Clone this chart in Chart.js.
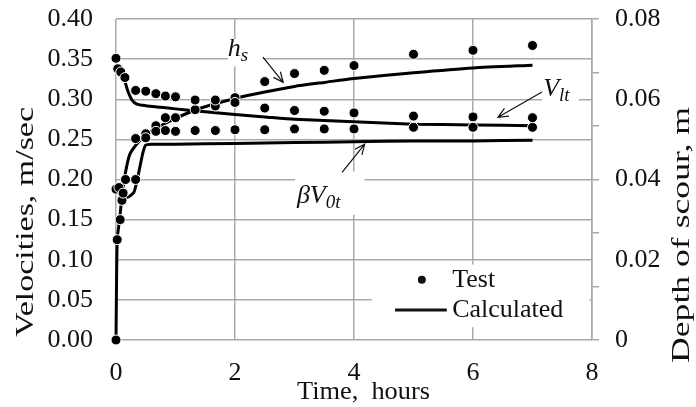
<!DOCTYPE html>
<html>
<head>
<meta charset="utf-8">
<script src="https://cdn.jsdelivr.net/npm/chart.js@4.4.0/dist/chart.umd.min.js"></script>
<style>
  html, body { margin: 0; padding: 0; background: #fff; }
  #contenedor { width: 696px; height: 407px; }
</style>
</head>
<body>
<div id="contenedor"><canvas id="grafico" width="696" height="407"></canvas></div>
<script>
// --- datos de prueba (puntos) ---
const horasVltPrueba = [0, 0.03, 0.08, 0.15, 0.33, 0.5, 0.67, 0.83, 1.0, 1.33, 1.67, 2.0, 2.5, 3.0, 3.5, 4.0, 5.0, 6.0, 7.0];
const vltPrueba = [0.351, 0.338, 0.334, 0.327, 0.311, 0.31, 0.307, 0.304, 0.303, 0.299, 0.299, 0.296, 0.289, 0.286, 0.285, 0.283, 0.279, 0.278, 0.277];

const horasBetaPrueba = [0, 0.05, 0.12, 0.33, 0.5, 0.67, 0.83, 1.0, 1.33, 1.67, 2.0, 2.5, 3.0, 3.5, 4.0, 5.0, 6.0, 7.0];
const betaPrueba = [0.188, 0.19, 0.183, 0.2, 0.252, 0.26, 0.261, 0.26, 0.261, 0.261, 0.262, 0.262, 0.263, 0.263, 0.263, 0.265, 0.265, 0.265];

const horasHsPrueba = [0, 0.02, 0.07, 0.1, 0.16, 0.33, 0.5, 0.67, 0.83, 1.0, 1.33, 1.67, 2.0, 2.5, 3.0, 3.5, 4.0, 5.0, 6.0, 7.0];
const hsPrueba = [0, 0.025, 0.030, 0.0348, 0.040, 0.0502, 0.0514, 0.0534, 0.0554, 0.0554, 0.0574, 0.0583, 0.0604, 0.0644, 0.0664, 0.0672, 0.0684, 0.0712, 0.0722, 0.0734];

// --- valores calculados (lineas) ---
const horasVltCalc = [0, 0.05, 0.1, 0.15, 0.2, 0.27, 0.35, 0.5, 0.75, 1.0, 1.36, 2.0, 2.5, 3.0, 4.0, 5.0, 6.0, 7.0];
const vltCalc = [0.342, 0.338, 0.33, 0.322, 0.31, 0.299, 0.294, 0.292, 0.29, 0.288, 0.2855, 0.281, 0.278, 0.275, 0.272, 0.269, 0.268, 0.267];

const horasBetaCalc = [0, 0.1, 0.2, 0.3, 0.34, 0.4, 0.45, 0.5, 0.6, 1.0, 2.0, 3.0, 4.0, 5.0, 6.0, 7.0];
const betaCalc = [0.186, 0.18, 0.178, 0.184, 0.194, 0.215, 0.233, 0.243, 0.244, 0.244, 0.245, 0.246, 0.247, 0.248, 0.248, 0.249];

const horasHsCalc = [0, 0.02, 0.06, 0.1, 0.15, 0.23, 0.37, 0.5, 0.7, 1.0, 1.36, 2.0, 2.5, 3.0, 3.5, 4.0, 5.0, 6.0, 7.0];
const hsCalc = [0, 0.025, 0.030, 0.0356, 0.041, 0.0462, 0.0492, 0.051, 0.053, 0.0552, 0.0575, 0.0602, 0.0618, 0.0632, 0.0642, 0.0652, 0.0666, 0.0678, 0.0685];

// --- ejes ---
const ticksHoras = [0, 2, 4, 6, 8];
const ticksVelocidad = [0, 0.05, 0.1, 0.15, 0.2, 0.25, 0.3, 0.35, 0.4];
const marcasProfundidad = [0, 0.0133, 0.0267, 0.04, 0.0533, 0.0667, 0.08];
const etiquetasProfundidad = [0, 0.02, 0.04, 0.06, 0.08];

const FUENTE = "'Liberation Serif', 'Times New Roman', serif";
const GRIS = '#a9a9a9';

function puntos(xs, ys) {
  return xs.map((x, i) => ({ x: x, y: ys[i] }));
}

function cerca(a, lista) {
  return lista.some(v => Math.abs(v - a) < 0.0005);
}

function flecha(ctx, x1, y1, x2, y2) {
  const ang = Math.atan2(y2 - y1, x2 - x1);
  const largo = 11;
  ctx.beginPath();
  ctx.moveTo(x1, y1);
  ctx.lineTo(x2, y2);
  ctx.moveTo(x2 - largo * Math.cos(ang - 0.42), y2 - largo * Math.sin(ang - 0.42));
  ctx.lineTo(x2, y2);
  ctx.lineTo(x2 - largo * Math.cos(ang + 0.42), y2 - largo * Math.sin(ang + 0.42));
  ctx.stroke();
}

// texto con subindice en cursiva
function etiqueta(ctx, antes, letra, sub, x, y) {
  ctx.font = 'italic 26px ' + FUENTE;
  let px = x;
  if (antes) {
    ctx.fillText(antes, px, y);
    px += ctx.measureText(antes).width;
  }
  ctx.fillText(letra, px, y);
  px += ctx.measureText(letra).width;
  ctx.font = 'italic 19px ' + FUENTE;
  ctx.fillText(sub, px, y + 5);
}

function tituloAjustado(ctx, texto, x, y, ancho, girar) {
  ctx.save();
  ctx.translate(x, y);
  if (girar) ctx.rotate(-Math.PI / 2);
  ctx.font = '26px ' + FUENTE;
  const w = ctx.measureText(texto).width;
  ctx.scale(ancho / w, 1);
  ctx.fillText(texto, 0, 0);
  ctx.restore();
}

const extras = {
  id: 'extras',
  afterDraw(chart) {
    const { ctx } = chart;
    const sx = chart.scales.x, sy = chart.scales.y;
    const X = v => sx.getPixelForValue(v);
    const Y = v => sy.getPixelForValue(v);

    ctx.save();
    // fondos blancos de anotaciones y leyenda
    ctx.fillStyle = '#fff';
    [[1.88, 2.47, 0.375, 0.341], [7.16, 7.78, 0.331, 0.294], [3.01, 4.18, 0.21, 0.156], [4.30, 7.96, 0.094, 0.016]]
      .forEach(c => ctx.fillRect(X(c[0]), Y(c[2]), X(c[1]) - X(c[0]), Y(c[3]) - Y(c[2])));

    ctx.fillStyle = '#111';
    ctx.strokeStyle = '#111';
    ctx.lineWidth = 1.2;
    ctx.textBaseline = 'alphabetic';
    ctx.textAlign = 'left';

    etiqueta(ctx, '', 'h', 's', X(1.88), Y(0.354));
    flecha(ctx, X(2.47), Y(0.3525), X(2.81), Y(0.321));

    etiqueta(ctx, '', 'V', 'lt', X(7.18), Y(0.304));
    flecha(ctx, X(7.16), Y(0.309), X(6.42), Y(0.2775));

    etiqueta(ctx, '\u03B2', 'V', '0t', X(3.04), Y(0.171));
    flecha(ctx, X(3.80), Y(0.209), X(4.18), Y(0.244));

    // leyenda
    ctx.beginPath();
    ctx.arc(X(5.14), Y(0.075), 4, 0, Math.PI * 2);
    ctx.fill();
    ctx.lineWidth = 3;
    ctx.beginPath();
    ctx.moveTo(X(4.69), Y(0.0375));
    ctx.lineTo(X(5.56), Y(0.0375));
    ctx.stroke();
    ctx.font = '26px ' + FUENTE;
    ctx.textBaseline = 'middle';
    ctx.fillText('Test', X(5.65), Y(0.075));
    ctx.fillText('Calculated', X(5.65), Y(0.0375));

    // titulos de ejes
    ctx.textBaseline = 'alphabetic';
    tituloAjustado(ctx, 'Velocities, m/sec', 33, 337, 230, true);
    tituloAjustado(ctx, 'Depth of scour, m', 689, 363, 256, true);
    tituloAjustado(ctx, 'Time,  hours', 297, 399, 133, false);
    ctx.restore();
  }
};

const estiloPrueba = {
  showLine: false,
  pointRadius: 5,
  pointBackgroundColor: '#000',
  pointBorderColor: '#fff',
  pointBorderWidth: 1,
  clip: false
};
const estiloCalc = {
  showLine: true,
  borderColor: '#000',
  borderWidth: 3,
  pointRadius: 0,
  tension: 0.2,
  clip: false
};

function sinRelleno(s) {
  s.paddingTop = 0;
  s.paddingBottom = 0;
  s.paddingLeft = 0;
  s.paddingRight = 0;
}

new Chart(document.getElementById('grafico'), {
  type: 'scatter',
  data: {
    datasets: [
      Object.assign({ label: 'Test Vlt', data: puntos(horasVltPrueba, vltPrueba), yAxisID: 'y' }, estiloPrueba),
      Object.assign({ label: 'Test bV0t', data: puntos(horasBetaPrueba, betaPrueba), yAxisID: 'y' }, estiloPrueba),
      Object.assign({ label: 'Test hs', data: puntos(horasHsPrueba, hsPrueba), yAxisID: 'y1' }, estiloPrueba),
      Object.assign({ label: 'Calc Vlt', data: puntos(horasVltCalc, vltCalc), yAxisID: 'y' }, estiloCalc),
      Object.assign({ label: 'Calc bV0t', data: puntos(horasBetaCalc, betaCalc), yAxisID: 'y' }, estiloCalc),
      Object.assign({ label: 'Calc hs', data: puntos(horasHsCalc, hsCalc), yAxisID: 'y1' }, estiloCalc)
    ]
  },
  options: {
    responsive: false,
    animation: false,
    layout: { padding: { top: 19, left: 0, right: 0, bottom: 0 } },
    plugins: { legend: { display: false }, tooltip: { enabled: false } },
    scales: {
      x: {
        type: 'linear', min: 0, max: 8,
        afterBuildTicks: s => { s.ticks = ticksHoras.map(v => ({ value: v })); },
        afterFit: s => { s.height = 67; sinRelleno(s); },
        grid: { color: GRIS, lineWidth: 1.5, drawTicks: false },
        border: { display: false },
        ticks: { color: '#111', font: { family: FUENTE, size: 26 }, padding: 18 }
      },
      y: {
        min: 0, max: 0.4,
        afterBuildTicks: s => { s.ticks = ticksVelocidad.map(v => ({ value: v })); },
        afterFit: s => { s.width = 116; sinRelleno(s); },
        grid: { color: GRIS, lineWidth: 1.5, drawTicks: false },
        border: { display: false },
        ticks: { color: '#111', font: { family: FUENTE, size: 26 }, padding: 23, callback: v => v.toFixed(2) }
      },
      y1: {
        position: 'right', min: 0, max: 0.08,
        afterBuildTicks: s => {
          const todos = marcasProfundidad.concat(etiquetasProfundidad.filter(v => !cerca(v, marcasProfundidad)));
          todos.sort((a, b) => a - b);
          s.ticks = todos.map(v => ({ value: v }));
        },
        afterFit: s => { s.width = 104; sinRelleno(s); },
        grid: {
          drawOnChartArea: false, tickLength: 7, lineWidth: 1.5,
          tickColor: c => (c.tick && cerca(c.tick.value, marcasProfundidad)) ? GRIS : 'rgba(0,0,0,0)'
        },
        border: { display: true, color: GRIS, width: 1.5 },
        ticks: {
          autoSkip: false, color: '#111', font: { family: FUENTE, size: 26 }, padding: 16,
          callback: v => cerca(v, etiquetasProfundidad) ? (v === 0 ? '0' : v.toFixed(2)) : ''
        }
      }
    }
  },
  plugins: [extras]
});
</script>
</body>
</html>
